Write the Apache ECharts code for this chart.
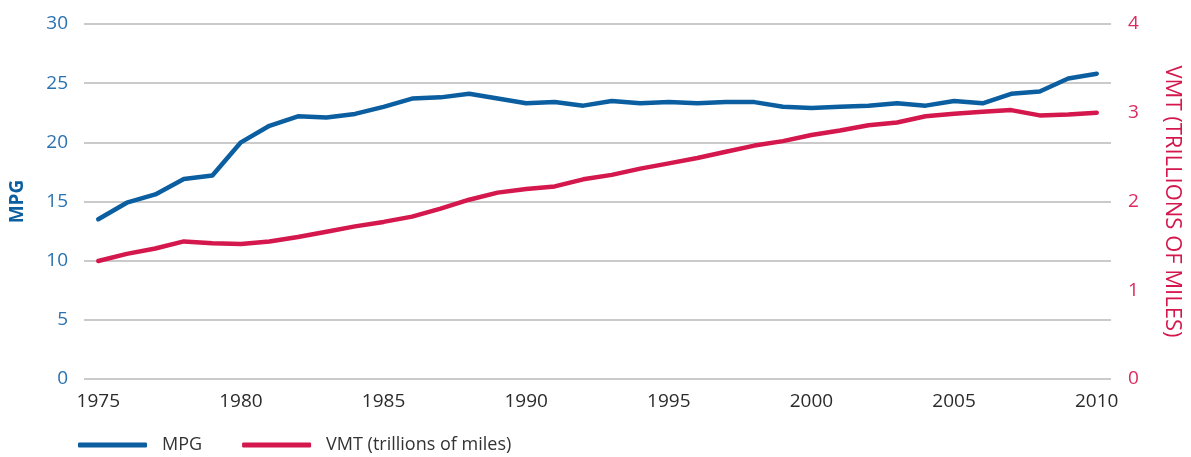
<!DOCTYPE html>
<html>
<head>
<meta charset="utf-8">
<script src="https://cdn.jsdelivr.net/npm/echarts@6/dist/echarts.min.js"></script>
<style>
html,body{margin:0;padding:0;background:#fff;}
#chart{width:1191px;height:457px;}
</style>
</head>
<body>
<div id="chart"></div>
<script>
const years = ['1975','1976','1977','1978','1979','1980','1981','1982','1983','1984','1985','1986','1987','1988','1989','1990','1991','1992','1993','1994','1995','1996','1997','1998','1999','2000','2001','2002','2003','2004','2005','2006','2007','2008','2009','2010'];
const mpg = [13.5,14.9,15.6,16.9,17.2,20.0,21.4,22.2,22.1,22.4,23.0,23.7,23.8,24.1,23.7,23.3,23.4,23.1,23.5,23.3,23.4,23.3,23.4,23.4,23.0,22.9,23.0,23.1,23.3,23.1,23.5,23.3,24.1,24.3,25.4,25.8];
const vmt = [1.33,1.41,1.47,1.55,1.53,1.52,1.55,1.60,1.66,1.72,1.77,1.83,1.92,2.02,2.10,2.14,2.17,2.25,2.30,2.37,2.43,2.49,2.56,2.63,2.68,2.75,2.80,2.86,2.89,2.96,2.99,3.01,3.03,2.97,2.98,3.00];
const mpgTicks = [0,5,10,15,20,25,30];
const vmtTicks = [0,1,2,3,4];

const BLUE = '#0b5fa0';
const BLUE_TXT = '#2a72b0';
const RED = '#d4174c';
const RED_TXT = '#dc2a5e';
const FONT = '"Open Sans", "Noto Sans", sans-serif';

const chart = echarts.init(document.getElementById('chart'));
chart.setOption({
  animation: false,
  textStyle: {fontFamily: FONT},
  grid: {left: 84, right: 68, top: 24, bottom: 78, containLabel: false},
  legend: {
    left: 78, top: 436, padding: 0,
    itemWidth: 69, itemHeight: 5, itemGap: 40,
    icon: 'roundRect',
    textStyle: {fontSize: 18, color: '#333', fontFamily: FONT, fontWeight: 400, padding: [0,0,0,10]},
    data: ['MPG', 'VMT (trillions of miles)']
  },
  xAxis: {
    type: 'category',
    data: years,
    boundaryGap: true,
    axisLine: {show: false},
    axisTick: {show: false},
    axisLabel: {interval: 4, color: '#2b2b2b', fontSize: 19, fontFamily: FONT, fontWeight: 400, margin: 13}
  },
  yAxis: [
    {
      type: 'value', min: mpgTicks[0], max: mpgTicks[mpgTicks.length-1], interval: 5,
      name: 'MPG', nameLocation: 'middle', nameGap: 57,
      nameTextStyle: {color: BLUE, fontSize: 19, fontWeight: 'bold', fontFamily: FONT},
      axisLine: {show: false}, axisTick: {show: false},
      axisLabel: {color: BLUE_TXT, fontSize: 19, fontFamily: FONT, fontWeight: 400, margin: 16},
      splitLine: {lineStyle: {color: '#b8b8b8', width: 1.5}}
    },
    {
      type: 'value', min: vmtTicks[0], max: vmtTicks[vmtTicks.length-1], interval: 1,
      position: 'right',
      name: 'VMT (TRILLIONS OF MILES)', nameLocation: 'middle', nameGap: 50, nameRotate: -90,
      nameTextStyle: {color: RED, fontSize: 22, fontFamily: FONT, fontWeight: 400},
      axisLine: {show: false}, axisTick: {show: false},
      axisLabel: {color: RED_TXT, fontSize: 19, fontFamily: FONT, fontWeight: 400, margin: 17},
      splitLine: {show: false}
    }
  ],
  series: [
    {
      name: 'MPG', type: 'line', yAxisIndex: 0, data: mpg,
      symbol: 'none', lineStyle: {color: BLUE, width: 4.5, cap: 'round', join: 'round'},
      itemStyle: {color: BLUE}
    },
    {
      name: 'VMT (trillions of miles)', type: 'line', yAxisIndex: 1, data: vmt,
      symbol: 'none', lineStyle: {color: RED, width: 4.5, cap: 'round', join: 'round'},
      itemStyle: {color: RED}
    }
  ]
});
</script>
</body>
</html>
